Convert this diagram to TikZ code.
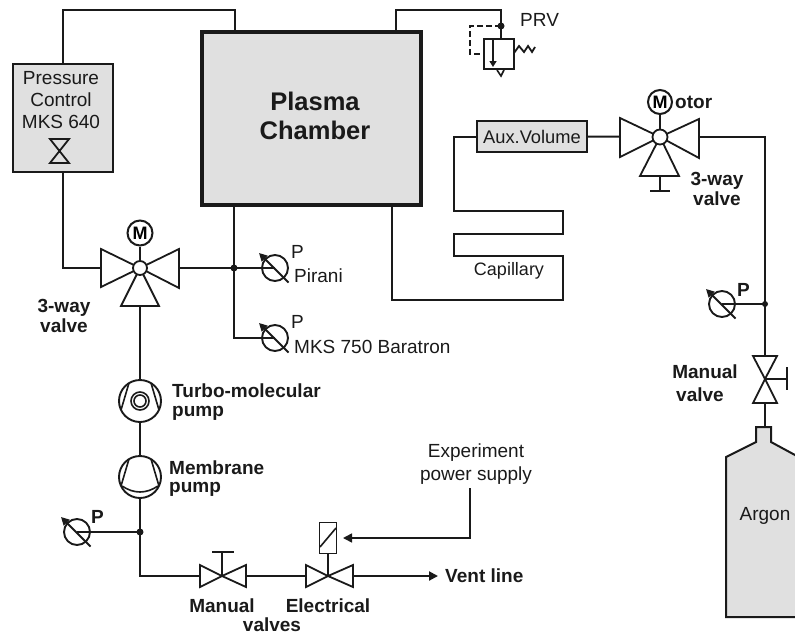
\documentclass[tikz,border=0pt]{standalone}
\usepackage{fontspec}
\setmainfont{Liberation Sans}
\usetikzlibrary{arrows.meta}
\definecolor{ink}{HTML}{1A1A1A}
\definecolor{panel}{HTML}{E0E0E0}
\tikzset{
  x=1pt,y=-1pt,
  pipe/.style={line width=2pt,draw=ink,line join=miter},
  sym/.style={line width=1.8pt,draw=ink,fill=white,line join=miter},
  thin sym/.style={line width=1.6pt,draw=ink},
  lab/.style={font=\fontsize{19}{20}\selectfont,text=ink,inner sep=0pt,align=center},
  blab/.style={font=\fontsize{19}{20}\selectfont\bfseries,text=ink,inner sep=0pt,align=center},
  joint/.style={circle,fill=ink,inner sep=0pt,minimum size=7pt},
  box/.style={draw=ink,fill=panel,line width=2.4pt,inner sep=0pt},
  hub/.style={circle,draw=ink,fill=white,line width=1.8pt,minimum size=14pt,inner sep=0pt},
  motor/.style={circle,draw=ink,fill=white,line width=2pt,inner sep=0pt,minimum size=25pt,font=\fontsize{18}{20}\selectfont\bfseries},
  pics/gauge/.style={code={
    \draw[thin sym,line width=1.9pt] (0,0) circle (13);
    \draw[thin sym,line width=1.9pt,-{Triangle[length=8pt,width=8pt]}] (13.5,14.5) -- (-16,-15);
  }},
  pics/pump/.style={code={
    \draw[thin sym,line width=1.9pt,fill=white] (0,0) circle (21);
    \draw[thin sym] (-11,-18) -- (-19,9);
    \draw[thin sym] (11,-18) -- (19,9);
  }},
  pics/blowtie/.style={code={
    \draw[sym] (0,0) -- (-39,-19) -- (-39,19) -- cycle;
    \draw[sym] (0,0) -- (39,-19) -- (39,20) -- cycle;
  }},
}
\begin{document}
\begin{tikzpicture}
\useasboundingbox (0,0) rectangle (795,635);

% main boxes
\node[box,line width=4.5pt,minimum width=219pt,minimum height=173pt] (chamber) at (311.5,118.5) {};
\node[font=\fontsize{25.5}{29}\selectfont\bfseries,text=ink,align=center,inner sep=0pt] (chambertext) at (315,116) {Plasma\\Chamber};
\node[box,minimum width=100pt,minimum height=108pt,anchor=north west] (pc) at (12,63) {};
\node[lab,anchor=north] (pctext) at (61,71) {Pressure\\[2pt]Control\\[2pt]MKS 640};
\draw[sym,fill=none] (50,139) -- (69,139) -- (50,163) -- (69,163) -- cycle;
\node[box,minimum width=110pt,minimum height=31pt,font=\fontsize{18.3}{20}\selectfont,text=ink] (aux) at (532,136.5) {Aux.Volume};

% reference coordinates
\coordinate (v1) at (140,268);
\coordinate (v2) at (660,137);
\coordinate (turbo) at (140,401);
\coordinate (memb) at (140,477);
\coordinate (j1) at (234,268);
\coordinate (j2) at (140,532);
\coordinate (j3) at (765,304);
\coordinate (j4) at (501,26);
\coordinate (g1) at (275,268);
\coordinate (g2) at (275,338);
\coordinate (g3) at (77,532);
\coordinate (g4) at (722,304);
\coordinate (mv) at (222,576);
\coordinate (ev) at (328,576);
\coordinate (vent) at (438,576);
\coordinate (hv) at (765,379);
\coordinate (prvbox) at (499,54);
\coordinate (argtop) at (765,427);

% connectors
\draw[pipe] (pc.north) |- (235,10) -- (235,31);
\draw[pipe] (pc.south) |- (v1);
\draw[pipe] (v1) -- (g1);
\draw[pipe] (234,206) -- (j1) |- (g2);
\draw[pipe] (v1) -- (turbo);
\draw[pipe] (turbo) -- (memb);
\draw[pipe] (memb) -- (j2) |- (mv);
\draw[pipe] (g3) -- (j2);
\draw[pipe] (mv) -- (ev);
\draw[pipe,-{Triangle[length=9pt,width=9pt]}] (ev) -- (vent);
\draw[pipe] (396,31) |- (501,10) -- (501,39);
\draw[pipe,dash pattern=on 6pt off 3pt] (j4) -- (470,26) -- (470,54) -- (484,54);
\draw[pipe] (aux.west) -- (454,136.5) -- (454,211) -- (563,211) -- (563,234) -- (454,234) -- (454,256) -- (563,256) -- (563,300) -- (392,300) -- (392,206);
\draw[pipe] (aux.east) -- (v2);
\draw[pipe] (v2) -| (j3);
\draw[pipe] (j3) -- (g4);
\draw[pipe] (j3) -- (argtop);
\draw[pipe] (v2) -- (660,191);
\draw[pipe] (650,191) -- (670,191);
\draw[pipe,line width=1.6pt,-{Triangle[length=9pt,width=9pt]}] (470,488) -- (470,538) -- (343,538);

% junctions
\node[joint] (d1) at (j1) {};
\node[joint] (d2) at (j2) {};
\node[joint,minimum size=6pt] (d3) at (j3) {};
\node[joint] (d4) at (j4) {};

% 3-way valve, left
\draw[sym] (v1) -- (121,306) -- (159,306) -- cycle;
\pic at (v1) {blowtie};
\node[motor] (m1) at (140,233) {M};
\draw[pipe] (m1) -- (v1);
\node[hub] (h1) at (v1) {};

% 3-way valve, right
\draw[sym] (v2) -- (640,176) -- (679,176) -- cycle;
\draw[sym] (v2) -- (620,118) -- (620,157) -- cycle;
\draw[sym] (v2) -- (699,119) -- (699,158) -- cycle;
\node[motor,minimum size=24pt] (m2) at (660,102) {M};
\draw[pipe] (m2) -- (v2);
\node[hub,minimum size=15pt] (h2) at (v2) {};

% gauges
\pic at (g1) {gauge};
\pic at (g2) {gauge};
\pic at (g3) {gauge};
\pic at (g4) {gauge};

% pumps
\pic at (turbo) {pump};
\draw[thin sym,fill=white] (turbo) circle (9);
\draw[thin sym] (turbo) circle (6);
\pic at (memb) {pump};
\draw[thin sym] (122,486) .. controls (134,494) and (146,494) .. (158,486);

% manual and electrical valves
\draw[sym] (mv) -- (200,565) -- (200,587) -- cycle;
\draw[sym] (mv) -- (246,565) -- (246,587) -- cycle;
\draw[thin sym] (mv) -- (222,552);
\draw[thin sym] (212,552) -- (234,552);
\draw[sym] (ev) -- (306,565) -- (306,587) -- cycle;
\draw[sym] (ev) -- (353,565) -- (353,587) -- cycle;
\node[draw=ink,line width=1.9pt,fill=white,minimum width=17pt,minimum height=31pt,inner sep=0pt] (sol) at (328,538) {};
\draw[pipe] (ev) -- (sol.south);
\draw[thin sym] (320,547) -- (336,528);

% vertical manual valve
\draw[sym] (hv) -- (753,356) -- (777,356) -- cycle;
\draw[sym] (hv) -- (753,403) -- (777,403) -- cycle;
\draw[pipe] (hv) -- (787,379);
\draw[pipe] (787,367) -- (787,390);

% PRV
\node[draw=ink,line width=2pt,fill=white,minimum width=30pt,minimum height=30pt,inner sep=0pt] (prv) at (prvbox) {};
\draw[thin sym,-{Triangle[length=6pt,width=7pt]}] (493,39) -- (493,67);
\draw[thin sym] (497,70) -- (501,76) -- (504,70);
\draw[thin sym,line width=1.8pt] (514,53) -- (519,46) -- (524,52) -- (528,46) -- (532,52) -- (535,47);

% argon cylinder
\path[draw=ink,fill=panel,line width=2pt,line join=miter] (795,455) -- (771,442) -- (771,427) -- (756,427) -- (756,442) -- (726,457) -- (726,617) -- (800,617) -- (800,455) -- cycle;
\node[font=\fontsize{19}{20}\selectfont,text=ink,inner sep=0pt] (argon) at (765,516) {Argon};

% labels
\node[blab] (lb1) at (64,315.5) {3-way\\valve};
\node[blab] (lb2) at (717,188.5) {3-way\\valve};
\node[blab,anchor=west] (lm) at (675,102) {otor};
\node[lab,anchor=west] (lp1) at (291,252) {P};
\node[blab,anchor=west] (lp3) at (91,517) {P};
\node[blab,anchor=west] (lp4) at (737,290) {P};
\node[lab,anchor=west] (lpir) at (294,276) {Pirani};
\node[lab,anchor=west] (lp2) at (291,322) {P};
\node[lab,anchor=west] (lbar) at (294,347) {MKS 750 Baratron};
\node[lab,anchor=west] (lprv) at (520,20) {PRV};
\node[lab,font=\fontsize{18}{20}\selectfont] (lcap) at (509,271) {Capillary};
\node[blab,anchor=base west] (lturbo) at (172,397) {Turbo-molecular};
\node[blab,anchor=base west] (lturbo2) at (172,416) {pump};
\node[blab,anchor=base west] (lmem) at (169,474) {Membrane};
\node[blab,anchor=base west] (lmem2) at (169,492) {pump};
\node[blab] (lman) at (222,606) {Manual};
\node[blab] (lele) at (328,606) {Electrical};
\node[blab,anchor=base] (lval) at (272,631.5) {valves};
\node[blab,anchor=base west] (lvent) at (445,582) {Vent line};
\node[lab] (lexp) at (476,464) {Experiment\\[3pt]power supply};
\node[blab] (lman2) at (705,372) {Manual};
\node[blab] (lval2) at (700,395) {valve};
\end{tikzpicture}
\end{document}
